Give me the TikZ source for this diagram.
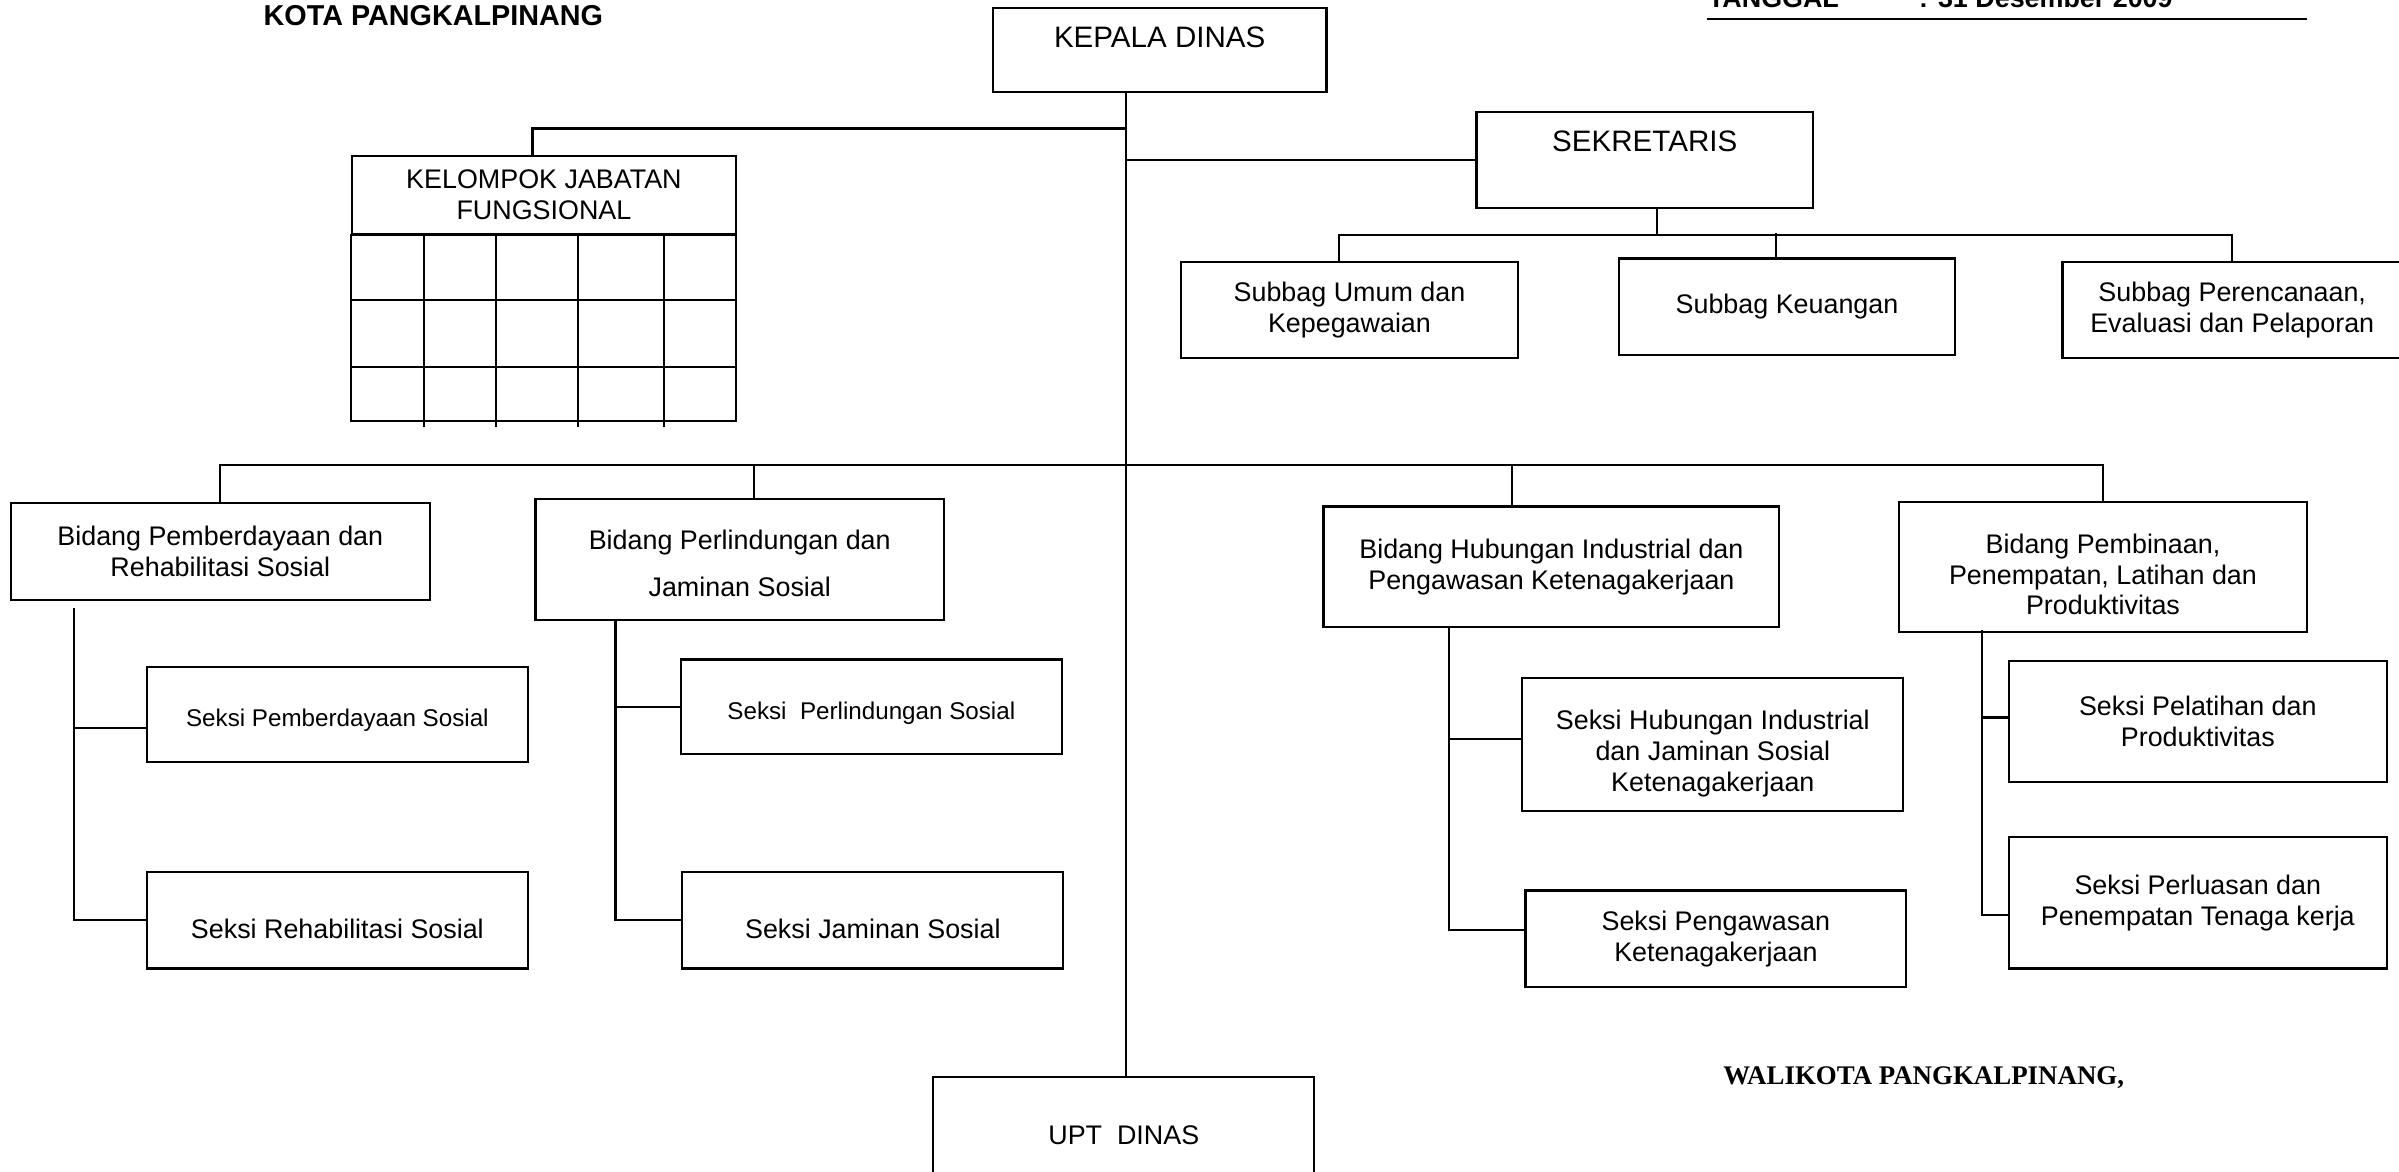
\documentclass[tikz,border=0pt]{standalone}
\usepackage{fontspec}
\setmainfont{Liberation Sans}
\newfontfamily\timesfont{Liberation Serif}
\usetikzlibrary{positioning}
\tikzset{
  kotak/.style={draw, line width=0.8pt, align=center, inner sep=0pt, font=\fontsize{10}{11.5}\selectfont},
  kecil/.style={font=\fontsize{9}{11}\selectfont, text height=9.3pt, text depth=0pt},
  besar/.style={font=\fontsize{11}{13}\selectfont, text height=7.9pt},
  judul/.style={anchor=base west, inner sep=0pt, font=\bfseries\fontsize{10}{12}\selectfont},
  garis/.style={line width=0.8pt},
}

\begin{document}
\begin{tikzpicture}[x=0.02cm, y=-0.02cm]
  \useasboundingbox (0,0) rectangle (1568,766);
  % kepala halaman
  \node[judul, font=\bfseries\fontsize{10.7}{12}\selectfont] (kota) at (172,17) {KOTA PANGKALPINANG};
  \node[judul] (tgl) at (1116,4.8) {TANGGAL};
  \node[judul] (tglisi) at (1254,4.8) {: 31 Desember 2009};
  \draw[garis] ([yshift=-0.15cm]tgl.base west) -- ++(392,0);
  \node[judul, font=\timesfont\bfseries\fontsize{10}{12}\selectfont] (walikota) at (1126,709) {WALIKOTA PANGKALPINANG,};

  % pimpinan dan sekretariat
  \node[kotak, besar, text depth=9.6pt, minimum width=4.36cm, minimum height=1.10cm] (kepala) at (758,32.5) {KEPALA DINAS};
  \node[kotak, besar, text depth=14.2pt, minimum width=4.40cm, minimum height=1.26cm] (sekretaris) at (1075,104.5) {SEKRETARIS};
  \node[kotak, minimum width=4.40cm, minimum height=1.26cm] (umum) at (882,202.5) {Subbag Umum dan\\Kepegawaian};
  \node[kotak, minimum width=4.40cm, minimum height=1.26cm] (keuangan) at (1168,200.5) {Subbag Keuangan};
  \node[kotak, minimum width=4.44cm, minimum height=1.26cm] (perencanaan) at (1459,202.5) {Subbag Perencanaan,\\Evaluasi dan Pelaporan};

  % kelompok jabatan fungsional
  \node[kotak, minimum width=5.02cm, minimum height=1.02cm] (kjf) at (355.5,127.5) {KELOMPOK JABATAN\\FUNGSIONAL};
  \draw[garis] (kjf.south west) rectangle (481,275);
  \foreach \y in {196,240}
    \draw[garis] (230,\y) -- (481,\y);
  \foreach \x in {277,324,378,434}
    \draw[garis] (\x,153) -- (\x,279);

  % bidang
  \node[kotak, minimum width=5.48cm, minimum height=1.26cm] (pemberdayaan) at (144,360.5) {Bidang Pemberdayaan dan\\Rehabilitasi Sosial};
  \node[kotak, minimum width=5.34cm, minimum height=1.58cm] (perlindungan) at (483.5,365.5) {\rule{0pt}{10.7pt}Bidang Perlindungan dan\\[6pt]Jaminan Sosial};
  \node[kotak, minimum width=5.96cm, minimum height=1.58cm] (hubungan) at (1014,370.5) {Bidang Hubungan Industrial dan\\Pengawasan Ketenagakerjaan};
  \node[kotak, minimum width=5.34cm, minimum height=1.70cm] (pembinaan) at (1374.5,370.5) {\rule{0pt}{12.9pt}Bidang Pembinaan,\\Penempatan, Latihan dan\\Produktivitas};

  % seksi
  \node[kotak, kecil, minimum width=4.98cm, minimum height=1.24cm] (spemb) at (220.5,467) {Seksi Pemberdayaan Sosial};
  \node[kotak, text height=13.5pt, text depth=0pt, minimum width=4.98cm, minimum height=1.26cm] (srehab) at (220.5,601.5) {Seksi Rehabilitasi Sosial};
  \node[kotak, kecil, minimum width=4.98cm, minimum height=1.24cm] (sperl) at (569.5,462) {Seksi\ \ Perlindungan Sosial};
  \node[kotak, text height=13.5pt, text depth=0pt, minimum width=4.98cm, minimum height=1.26cm] (sjamin) at (570.5,601.5) {Seksi Jaminan Sosial};
  \node[kotak, minimum width=4.98cm, minimum height=1.74cm] (shub) at (1119.5,486.5) {\rule{0pt}{14.1pt}Seksi Hubungan Industrial\\dan Jaminan Sosial\\Ketenagakerjaan};
  \node[kotak, minimum width=4.98cm, minimum height=1.26cm] (spengaw) at (1121.5,613.5) {Seksi Pengawasan\\Ketenagakerjaan};
  \node[kotak, minimum width=4.94cm, minimum height=1.58cm] (spelat) at (1436.5,471.5) {Seksi Pelatihan dan\\Produktivitas};
  \node[kotak, minimum width=4.94cm, minimum height=1.72cm] (sperlu) at (1436.5,590) {Seksi Perluasan dan\\Penempatan Tenaga kerja};

  % unit pelaksana teknis
  \node[kotak, minimum width=4.98cm, minimum height=1.52cm] (upt) at (734.5,742) {UPT\ \ DINAS};

  % garis komando
  \coordinate (batang) at (736,0);
  \draw[garis] (kepala.south -| batang) -- (upt.north -| batang);
  \draw[garis] ([xshift=-0.15cm]kjf.north) |- (batang |- 0,84);
  \draw[garis] (batang |- sekretaris.west) -- (sekretaris.west);
  \draw[garis] ([xshift=0.16cm]sekretaris.south) -- ++(0,17) coordinate (sekbus);
  \draw[garis] ([xshift=-0.14cm]umum.north) |- (perencanaan.north |- sekbus) -- (perencanaan.north);
  \draw[garis] ([xshift=-0.14cm]keuangan.north) -- ++(0,-16);

  \draw[garis] (pemberdayaan.north) |- (pembinaan.north |- 0,304) -- (pembinaan.north);
  \draw[garis] ([xshift=0.19cm]perlindungan.north) -- ++(0,-22);
  \draw[garis] ([xshift=-0.52cm]hubungan.north) -- ++(0,-27);

  \draw[garis] ([shift={(0.84cm,-0.1cm)}]pemberdayaan.south west) |- (srehab.west);
  \draw[garis] ([yshift=-0.18cm]spemb.west) -| ([shift={(0.84cm,-0.1cm)}]pemberdayaan.south west);
  \draw[garis] ([xshift=1.06cm]perlindungan.south west) |- (sjamin.west);
  \draw[garis] (sperl.west) -| ([xshift=1.06cm]perlindungan.south west);
  \draw[garis] ([xshift=1.66cm]hubungan.south west) |- ([yshift=0.11cm]spengaw.west);
  \draw[garis] ([yshift=0.07cm]shub.west) -| ([xshift=1.66cm]hubungan.south west);
  \draw[garis] ([shift={(1.10cm,0.04cm)}]pembinaan.south west) |- ([yshift=-0.16cm]sperlu.west);
  \draw[garis] ([yshift=0.05cm]spelat.west) -| ([shift={(1.10cm,0.04cm)}]pembinaan.south west);
\end{tikzpicture}
\end{document}
